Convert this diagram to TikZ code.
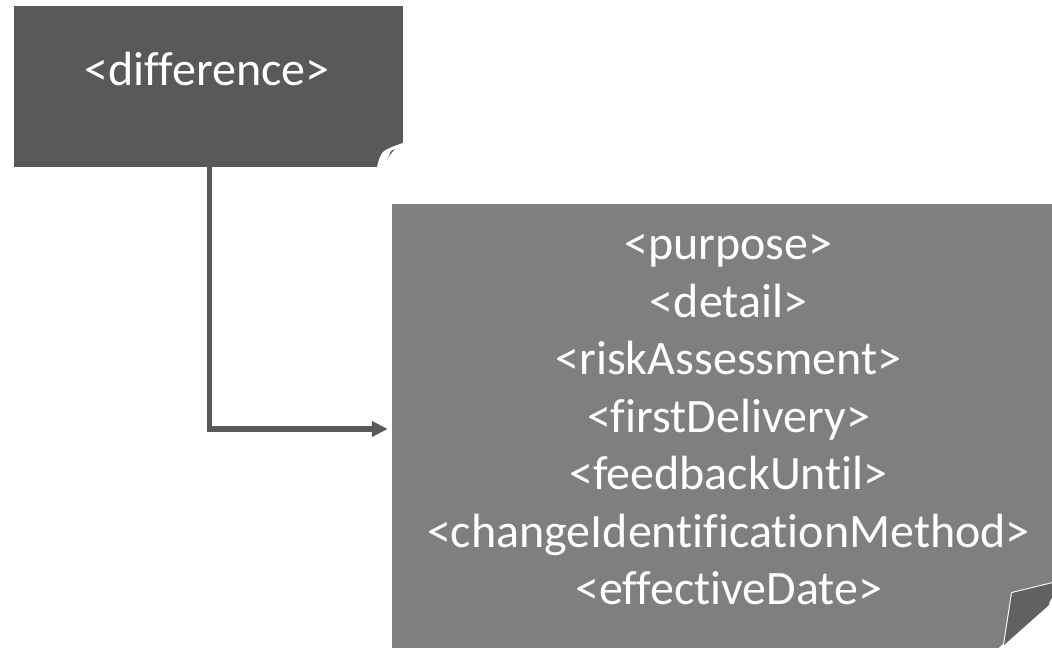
\documentclass[tikz,border=0pt]{standalone}
\usepackage{fontspec}
\setmainfont{Carlito}[Ligatures=NoCommon]
\usetikzlibrary{arrows.meta}
\definecolor{darkbox}{HTML}{595959}
\definecolor{lightbox}{HTML}{7F7F7F}
\tikzstyle{note}=[shape=rectangle, inner sep=0pt, text=white]
\tikzstyle{flap}=[draw=white, line width=2pt, line join=round]
\tikzstyle{link}=[draw=darkbox, line width=5.5pt, -{Triangle[length=16pt,width=15pt]}, shorten >=4pt]

\begin{document}
\begin{tikzpicture}[x=1pt, y=-1pt]
		\useasboundingbox (0, 0) rectangle (1052, 648);
		\node [style=note, fill=darkbox, minimum width=389pt, minimum height=161pt] (diff) at (208.5, 86.5) {};
		\node [style=note, fill=lightbox, minimum width=660pt, minimum height=444pt] (info) at (722, 426) {};

		\node [style=note, anchor=base, font=\fontsize{48}{57.5}\selectfont] (difftext) at (207, 85) {<difference>};
		\node [style=note, align=center, font=\fontsize{48}{57.5}\selectfont] (infotext) at (728.5, 420) {<purpose>\\<detail>\\<riskAssessment>\\<firstDelivery>\\<feedbackUntil>\\<changeIdentificationMethod>\\<effectiveDate>};

		% folded corners
		\fill [white] (377, 168) -- (404, 168) -- (404, 142) -- cycle;
		\draw [style=flap, fill=white] (378, 167) .. controls (382, 152) .. (397, 146) -- (403, 144);
		\fill [darkbox] (387, 160) -- (391, 151) -- (395, 149) -- (389, 156) -- cycle;
		\fill [white] (998, 649) -- (1053, 649) -- (1053, 593) -- cycle;
		\draw [style=flap, fill=darkbox!95] (1004, 645) -- (1012, 593) -- (1053, 583) -- (1053, 598) -- (1049, 605) -- cycle;
		\draw [white, line width=3pt] (1049, 605) -- (1004, 645);
		\fill [darkbox!95] (1049, 605) -- (1004, 645) -- (1012, 593) -- (1053, 583) -- cycle;

		\draw [style=link] ([xshift=1pt]diff.south) |- ([yshift=-3pt]info.west);
	\end{tikzpicture}
\end{document}
